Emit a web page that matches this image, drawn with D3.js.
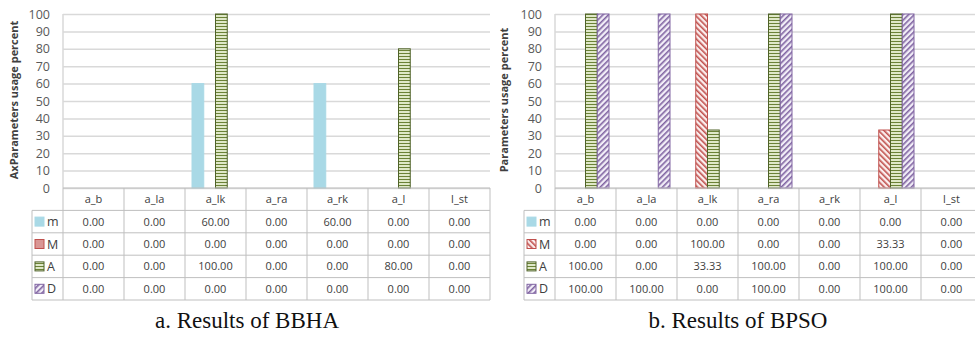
<!DOCTYPE html>
<html>
<head>
<meta charset="utf-8">
<script src="https://cdn.jsdelivr.net/npm/d3@7"></script>
<style>
  body { margin: 0; background: #fff; }
  svg { display: block; }
</style>
</head>
<body>
<script>
var categories = ['a_b', 'a_la', 'a_lk', 'a_ra', 'a_rk', 'a_l', 'l_st'];
var seriesNames = ['m', 'M', 'A', 'D'];
var yTicks = [0, 10, 20, 30, 40, 50, 60, 70, 80, 90, 100];

// BBHA
var bbhaM = [0, 0, 60, 0, 60, 0, 0];
var bbhaBigM = [0, 0, 0, 0, 0, 0, 0];
var bbhaA = [0, 0, 100, 0, 0, 80, 0];
var bbhaD = [0, 0, 0, 0, 0, 0, 0];

// BPSO
var bpsoM = [0, 0, 0, 0, 0, 0, 0];
var bpsoBigM = [0, 0, 100, 0, 0, 33.33, 0];
var bpsoA = [100, 0, 33.33, 100, 0, 100, 0];
var bpsoD = [100, 100, 0, 100, 0, 100, 0];

var width = 975;
var height = 338;

var svg = d3.select('body').append('svg')
  .attr('width', width)
  .attr('height', height);

var defs = svg.append('defs');

// green horizontal stripes
var pA = defs.append('pattern').attr('id', 'patA')
  .attr('patternUnits', 'userSpaceOnUse').attr('width', 6).attr('height', 3);
pA.append('rect').attr('width', 6).attr('height', 3).attr('fill', '#dfe8c8');
pA.append('rect').attr('y', 2).attr('width', 6).attr('height', 1).attr('fill', '#6b8236');

// purple up diagonal
var pD = defs.append('pattern').attr('id', 'patD')
  .attr('patternUnits', 'userSpaceOnUse').attr('width', 4).attr('height', 4)
  .attr('patternTransform', 'rotate(45)');
pD.append('rect').attr('width', 4).attr('height', 4).attr('fill', '#f1edf7');
pD.append('rect').attr('width', 1.6).attr('height', 4).attr('fill', '#8064a2');

// red down diagonal
var pM = defs.append('pattern').attr('id', 'patM')
  .attr('patternUnits', 'userSpaceOnUse').attr('width', 4).attr('height', 4)
  .attr('patternTransform', 'rotate(-45)');
pM.append('rect').attr('width', 4).attr('height', 4).attr('fill', '#fbeeee');
pM.append('rect').attr('width', 1.6).attr('height', 4).attr('fill', '#c0504d');

var fills = { m: '#a9d9e6', M: 'url(#patM)', A: 'url(#patA)', D: 'url(#patD)' };
var strokes = { m: '#a9d9e6', M: '#c0504d', A: '#4f6228', D: '#8064a2' };

function drawPanel(opts) {
  var g = svg.append('g');
  var left = opts.left;
  var colW = 61;
  var top = 14;
  var base = 188;
  var rowH = 22.4;

  var x = d3.scaleBand().domain(categories).range([left, left + colW * categories.length]);
  var xs = d3.scaleBand().domain(seriesNames).range([7, colW - 7]);
  var y = d3.scaleLinear().domain([0, 100]).range([base, top]);

  // gridlines
  g.append('g')
    .attr('transform', 'translate(' + left + ',0)')
    .call(d3.axisLeft(y).tickValues(yTicks).tickSize(-colW * categories.length).tickFormat(''))
    .call(function(a) { a.select('.domain').remove(); })
    .selectAll('line').attr('stroke', '#d9d9d9').attr('stroke-width', 1.5);

  g.append('line')
    .attr('x1', left).attr('x2', left).attr('y1', top).attr('y2', base)
    .attr('stroke', '#d9d9d9').attr('stroke-width', 1.5);

  // tick labels
  g.append('g')
    .attr('transform', 'translate(' + (left - 10) + ',0)')
    .call(d3.axisLeft(y).tickValues(yTicks).tickSize(0))
    .call(function(a) { a.select('.domain').remove(); })
    .selectAll('text')
    .attr('fill', '#595959')
    .style('font-family', 'Open Sans, sans-serif')
    .style('font-size', '12.5px');

  // axis title
  g.append('text')
    .attr('transform', 'translate(' + opts.titleX + ',' + 100 + ') rotate(-90)')
    .attr('text-anchor', 'middle')
    .attr('fill', '#404040')
    .style('font-family', 'Open Sans, sans-serif')
    .style('font-weight', 'bold')
    .style('font-size', '11px')
    .text(opts.yTitle);

  // bars
  opts.series.forEach(function(vals, si) {
    var name = seriesNames[si];
    g.selectAll('.bar-' + name)
      .data(vals.map(function(v, i) { return { c: categories[i], v: v }; }).filter(function(d) { return d.v > 0; }))
      .enter().append('rect')
      .attr('x', function(d) { return x(d.c) + xs(name); })
      .attr('y', function(d) { return y(d.v); })
      .attr('width', xs.bandwidth())
      .attr('height', function(d) { return base - y(d.v); })
      .attr('fill', fills[name])
      .attr('stroke', strokes[name])
      .attr('stroke-width', 1);
  });

  // data table
  var tbl = g.append('g');
  var rowLeft = left - 31;
  var right = left + colW * categories.length;
  var lineColor = '#bfbfbf';
  // horizontal lines
  tbl.append('line').attr('x1', left).attr('x2', right).attr('y1', base).attr('y2', base)
    .attr('stroke', lineColor);
  for (var r = 1; r <= seriesNames.length + 1; r++) {
    tbl.append('line').attr('x1', rowLeft).attr('x2', right)
      .attr('y1', base + r * rowH).attr('y2', base + r * rowH)
      .attr('stroke', lineColor);
  }
  // vertical lines
  tbl.append('line').attr('x1', rowLeft).attr('x2', rowLeft)
    .attr('y1', base + rowH).attr('y2', base + rowH * 5).attr('stroke', lineColor);
  categories.concat(['end']).forEach(function(c, i) {
    var xx = left + i * colW;
    tbl.append('line').attr('x1', xx).attr('x2', xx)
      .attr('y1', base).attr('y2', base + rowH * 5).attr('stroke', lineColor);
  });

  var txtStyle = function(s) {
    s.attr('fill', '#404040')
      .style('font-family', 'Open Sans, sans-serif')
      .style('font-size', '11px');
  };

  tbl.selectAll('.hdr').data(categories).enter().append('text')
    .attr('x', function(d) { return x(d) + colW / 2; })
    .attr('y', base + rowH / 2 + 4)
    .attr('text-anchor', 'middle')
    .call(txtStyle)
    .text(function(d) { return d; });

  opts.series.forEach(function(vals, si) {
    var name = seriesNames[si];
    var cy = base + (si + 1) * rowH + rowH / 2;
    tbl.append('rect')
      .attr('x', rowLeft + 3).attr('y', cy - 4.5)
      .attr('width', 9).attr('height', 9)
      .attr('fill', opts.keyFills[si])
      .attr('stroke', strokes[name]);
    tbl.append('text')
      .attr('x', rowLeft + 15).attr('y', cy + 4.5)
      .attr('fill', '#404040')
      .style('font-family', 'Open Sans, sans-serif')
      .style('font-size', '12.5px')
      .text(name);
    tbl.selectAll('.v' + si).data(vals).enter().append('text')
      .attr('x', function(d, i) { return x(categories[i]) + colW / 2; })
      .attr('y', cy + 4)
      .attr('text-anchor', 'middle')
      .call(txtStyle)
      .text(function(d) { return d3.format('.2f')(d); });
  });

  // caption
  svg.append('text')
    .attr('x', opts.captionX).attr('y', 328)
    .attr('text-anchor', 'middle')
    .attr('fill', '#111')
    .style('font-family', 'Liberation Serif, Times New Roman, serif')
    .style('font-size', '23px')
    .text(opts.caption);
}

drawPanel({
  left: 63,
  titleX: 18,
  yTitle: 'AxParameters usage percent',
  series: [bbhaM, bbhaBigM, bbhaA, bbhaD],
  keyFills: ['#a9d9e6', '#d99694', 'url(#patA)', 'url(#patD)'],
  caption: 'a. Results of BBHA',
  captionX: 247
});

drawPanel({
  left: 555,
  titleX: 508,
  yTitle: 'Parameters usage percent',
  series: [bpsoM, bpsoBigM, bpsoA, bpsoD],
  keyFills: ['#a9d9e6', 'url(#patM)', 'url(#patA)', 'url(#patD)'],
  caption: 'b. Results of BPSO',
  captionX: 738
});
</script>
</body>
</html>
